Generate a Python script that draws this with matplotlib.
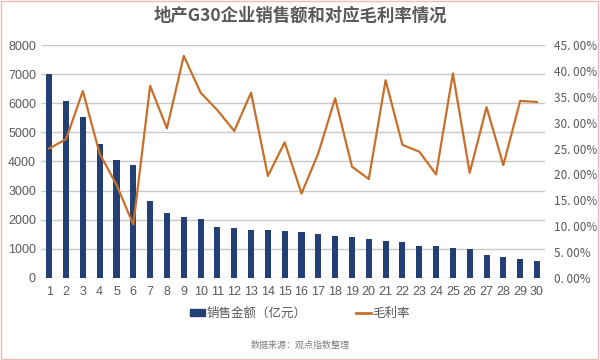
import matplotlib
matplotlib.use("Agg")
import matplotlib.pyplot as plt
from matplotlib.patches import Rectangle
from matplotlib.lines import Line2D

plt.rcParams['font.family'] = ['Noto Sans CJK SC', 'DejaVu Sans']

companies = list(range(1, 31))
sales = [7000, 6060, 5520, 4600, 4050, 3880, 2640, 2220, 2100, 2010,
         1760, 1700, 1640, 1640, 1620, 1570, 1520, 1430, 1390, 1350,
         1270, 1230, 1100, 1090, 1020, 1010, 790, 710, 660, 570]
margin = [25.0, 26.8, 36.1, 24.0, 18.0, 10.3, 37.1, 28.9, 42.9, 35.8,
          32.4, 28.4, 35.8, 19.7, 26.2, 16.3, 24.1, 34.7, 21.5, 19.1,
          38.2, 25.7, 24.4, 20.0, 39.5, 20.3, 33.0, 21.8, 34.2, 34.0]
left_ticks = [0, 1000, 2000, 3000, 4000, 5000, 6000, 7000, 8000]
right_ticks = [0, 5, 10, 15, 20, 25, 30, 35, 40, 45]

bar_color = '#243F73'
line_color = '#C8702A'
text_color = '#595959'

fig = plt.figure(figsize=(6, 3.6), dpi=100)
ax = fig.add_axes([0.068, 0.228, 0.841, 0.647])
ax2 = ax.twinx()

for y in left_ticks:
    ax.axhline(y, color='#C8C8C8', lw=1, zorder=0)
ax.bar(companies, sales, width=0.36, color=bar_color, zorder=2)
ax.set_xlim(0.5, 30.5)
ax.set_ylim(0, 8000)
ax.set_yticks(left_ticks)
ax.set_xticks(companies)
ax.tick_params(axis='both', length=0, labelsize=9, colors=text_color)
ax.tick_params(axis='x', pad=6)
for lbl in ax.get_xticklabels() + ax.get_yticklabels():
    lbl.set_fontfamily('Liberation Sans')

ax2.plot(companies, margin, color=line_color, lw=1.6, zorder=3)
ax2.set_ylim(0, 45)
ax2.set_yticks(right_ticks)
ax2.set_yticklabels([f"{v}. 00%" for v in right_ticks])
ax2.tick_params(axis='y', length=0, labelsize=8.5, colors=text_color, pad=6)

for a in (ax, ax2):
    for s in a.spines.values():
        s.set_visible(False)

fig.text(0.5, 0.955, '地产G30企业销售额和对应毛利率情况', ha='center', va='center',
         fontsize=12.5, fontweight='bold', color=text_color)

handles = [Rectangle((0, 0), 1, 1, color=bar_color),
           Line2D([0], [0], color=line_color, lw=2)]
fig.legend(handles, ['销售金额（亿元）', '毛利率'], loc='center',
           bbox_to_anchor=(0.5, 0.13), ncol=2, frameon=False, fontsize=9,
           labelcolor=text_color, handlelength=1.2, handleheight=0.45,
           columnspacing=4, handletextpad=0.1)

fig.text(0.5, 0.04, '数据来源：观点指数整理', ha='center', va='center',
         fontsize=6.5, color='#7F7F7F')

fig.add_artist(Rectangle((0.002, 0.004), 0.994, 0.992, transform=fig.transFigure,
                         fill=False, edgecolor='#F2B8B8', lw=1))

fig.savefig('out.png', dpi=100)
